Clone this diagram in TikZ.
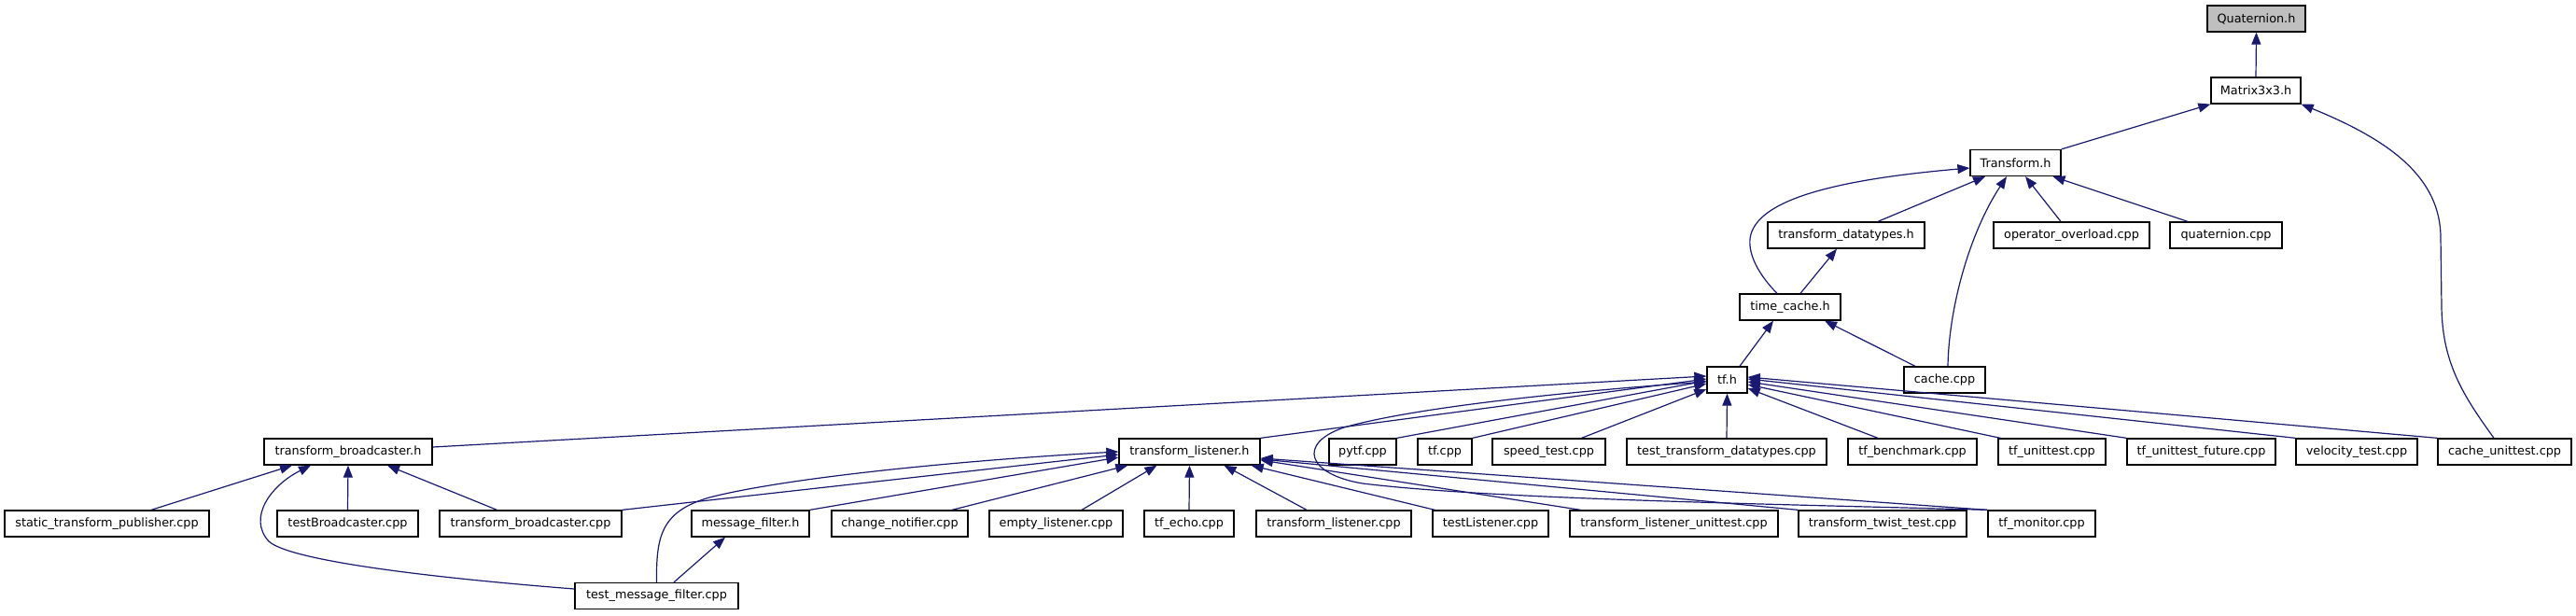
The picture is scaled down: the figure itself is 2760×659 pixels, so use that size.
\documentclass[tikz,border=0pt]{standalone}
\usepackage{fontspec}
\setmainfont{DejaVu Sans}
\usetikzlibrary{arrows.meta}
\definecolor{mb}{HTML}{191970}
\definecolor{qg}{HTML}{BFBFBF}
\begin{document}
\begin{tikzpicture}[x=1pt,y=-1pt,
  bx/.style={draw=black, line width=1.3pt, fill=white, minimum height=28pt, inner sep=0pt, font=\fontsize{12.8}{15}\selectfont},
  ed/.style={draw=mb, line width=1.2pt, -{Triangle[length=13pt,width=10pt]}}]
\useasboundingbox (0,0) rectangle (2760,659);
% nodes
\node[bx,fill=qg,minimum width=105pt] (quat) at (2417.5,20) {Quaternion.h};
\node[bx,minimum width=96pt] (matrix) at (2417,97) {Matrix3x3.h};
\node[bx,minimum width=97pt] (transform) at (2159.5,174.5) {Transform.h};
\node[bx,minimum width=168pt] (tdt) at (1978,252) {transform\_datatypes.h};
\node[bx,minimum width=167pt] (opov) at (2219.5,252) {operator\_overload.cpp};
\node[bx,minimum width=120pt] (quatcpp) at (2385,252) {quaternion.cpp};
\node[bx,minimum width=108pt] (timecache) at (1918,329) {time\_cache.h};
\node[bx,minimum width=43pt] (tfh) at (1850.5,407) {tf.h};
\node[bx,minimum width=87pt] (cachecpp) at (2083.5,407) {cache.cpp};
% row 7
\node[bx,minimum width=180pt] (tbh) at (373,484) {transform\_broadcaster.h};
\node[bx,minimum width=151pt] (tlh) at (1274.5,484) {transform\_listener.h};
\node[bx,minimum width=72pt] (pytf) at (1460,484) {pytf.cpp};
\node[bx,minimum width=58pt] (tfcpp) at (1548,484) {tf.cpp};
\node[bx,minimum width=121pt] (speed) at (1659.5,484) {speed\_test.cpp};
\node[bx,minimum width=214pt] (ttd) at (1850,484) {test\_transform\_datatypes.cpp};
\node[bx,minimum width=138pt] (bench) at (2049,484) {tf\_benchmark.cpp};
\node[bx,minimum width=115pt] (unittest) at (2198.5,484) {tf\_unittest.cpp};
\node[bx,minimum width=159pt] (future) at (2358.5,484) {tf\_unittest\_future.cpp};
\node[bx,minimum width=130pt] (velocity) at (2525,484) {velocity\_test.cpp};
\node[bx,minimum width=143pt] (cacheunit) at (2683.5,484) {cache\_unittest.cpp};
% row 8
\node[bx,minimum width=219pt] (static) at (114.5,561) {static\_transform\_publisher.cpp};
\node[bx,minimum width=151pt] (testbc) at (372.5,561) {testBroadcaster.cpp};
\node[bx,minimum width=195pt] (tbcpp) at (568.5,561) {transform\_broadcaster.cpp};
\node[bx,minimum width=126pt] (msgf) at (804,561) {message\_filter.h};
\node[bx,minimum width=146pt] (change) at (964,561) {change\_notifier.cpp};
\node[bx,minimum width=143pt] (empty) at (1131.5,561) {empty\_listener.cpp};
\node[bx,minimum width=96pt] (echo) at (1274,561) {tf\_echo.cpp};
\node[bx,minimum width=166pt] (tlcpp) at (1429,561) {transform\_listener.cpp};
\node[bx,minimum width=124pt] (testl) at (1597,561) {testListener.cpp};
\node[bx,minimum width=223pt] (tlunit) at (1793.5,561) {transform\_listener\_unittest.cpp};
\node[bx,minimum width=180pt] (twist) at (2017,561) {transform\_twist\_test.cpp};
\node[bx,minimum width=115pt] (monitor) at (2187.5,561) {tf\_monitor.cpp};
% row 9
\node[bx,minimum width=175pt] (tmf) at (703.5,638.5) {test\_message\_filter.cpp};
% edges: top
\draw[ed] (matrix.north) -- (quat.south);
\draw[ed] (transform.north east) -- (matrix.south west);
\draw[ed] ([xshift=-11.5pt]cacheunit.north) .. controls (2640,425) and (2617,390) .. (2616,330) -- (2615,255) .. controls (2615,190) and (2560,150) .. (matrix.south east);
\draw[ed] ([xshift=34pt]tdt.north) -- ([xshift=-32.5pt]transform.south);
\draw[ed] ([xshift=-11.5pt]opov.north) -- ([xshift=10.5pt]transform.south);
\draw[ed] ([xshift=-41pt]quatcpp.north) -- ([xshift=40pt]transform.south);
\draw[ed] ([xshift=-14pt]timecache.north) .. controls (1880,290) and (1870,265) .. (1877,248) .. controls (1890,215) and (1960,193) .. ([yshift=-5.5pt]transform.west);
\draw[ed] ([xshift=3.5pt]cachecpp.north) .. controls (2088,330) and (2110,250) .. ([xshift=-9.5pt]transform.south);
\draw[ed] ([xshift=11pt]timecache.north) -- ([xshift=-10pt]tdt.south);
\draw[ed] ([xshift=13.5pt]tfh.north) -- ([xshift=-18pt]timecache.south);
\draw[ed] ([xshift=-31.5pt]cachecpp.north) -- ([xshift=37pt]timecache.south);
% tf.h
\draw[ed] ([yshift=5pt]tbh.east) -- ([yshift=4pt]tfh.west);
\draw[ed] (tlh.north east) -- ([yshift=1pt]tfh.west);
\draw[ed] (pytf.north east) -- ([yshift=-1pt]tfh.west);
\draw[ed] (tfcpp.north east) -- ([yshift=-4pt]tfh.west);
\draw[ed] ([xshift=35pt]speed.north) -- ([yshift=-10pt]tfh.west);
\draw[ed] (ttd.north) -- (tfh.south);
\draw[ed] ([xshift=-37pt]bench.north) -- ([yshift=-9pt]tfh.east);
\draw[ed] ([xshift=3pt]unittest.north west) -- ([yshift=-5pt]tfh.east);
\draw[ed] (future.north west) -- ([yshift=-2pt]tfh.east);
\draw[ed] (velocity.north west) -- ([yshift=1pt]tfh.east);
\draw[ed] (cacheunit.north west) -- ([yshift=3pt]tfh.east);
\draw[ed] (monitor.north west) .. controls (1900,540) and (1600,535) .. (1460,518) .. controls (1400,508) and (1390,475) .. (1440,458) .. controls (1520,435) and (1700,418) .. ([yshift=-2pt]tfh.west);
% transform_listener.h
\draw[ed] (tbcpp.north east) -- ([yshift=-3pt]tlh.west);
\draw[ed] (tmf.north) .. controls (703,575) and (708,548) .. (760,533) .. controls (850,510) and (1050,492) .. (tlh.west);
\draw[ed] (msgf.north east) -- ([yshift=-6pt]tlh.west);
\draw[ed] ([xshift=56pt]change.north) -- ([xshift=10pt]tlh.south west);
\draw[ed] ([xshift=27.5pt]empty.north) -- ([xshift=-35pt]tlh.south);
\draw[ed] (echo.north) -- (tlh.south);
\draw[ed] ([xshift=-29pt]tlcpp.north) -- ([xshift=37pt]tlh.south);
\draw[ed] ([xshift=3pt]testl.north west) -- ([xshift=-10pt]tlh.south east);
\draw[ed] ([xshift=-100pt]tlunit.north) -- ([yshift=-9pt]tlh.east);
\draw[ed] (twist.north west) -- ([yshift=-8pt]tlh.east);
\draw[ed] (monitor.north west) -- ([yshift=-7pt]tlh.east);
% transform_broadcaster.h
\draw[ed] ([xshift=47.5pt]static.north) -- ([xshift=-60pt]tbh.south);
\draw[ed] (testbc.north) -- (tbh.south);
\draw[ed] ([xshift=-36pt]tbcpp.north) -- ([xshift=42pt]tbh.south);
\draw[ed] ([yshift=7.5pt]tmf.west) .. controls (450,618) and (310,600) .. (288,580) .. controls (265,555) and (290,520) .. ([xshift=-40pt]tbh.south);
\draw[ed] ([xshift=18.5pt]tmf.north) -- ([xshift=-27pt]msgf.south);
\end{tikzpicture}
\end{document}
